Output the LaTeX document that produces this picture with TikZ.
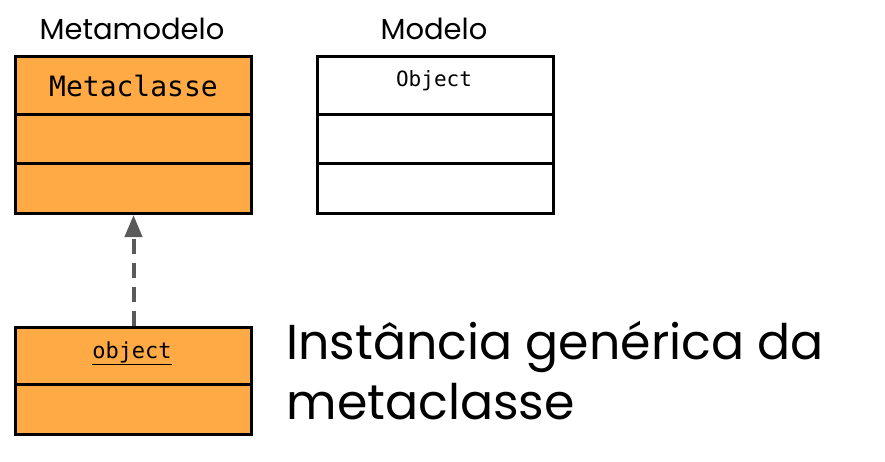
\documentclass[tikz,border=0pt]{standalone}
\usepackage{fontspec}
\setmainfont{Poppins}
\setmonofont{DejaVu Sans Mono}
\usetikzlibrary{arrows.meta}
\definecolor{boxorange}{HTML}{FFAA44}
\definecolor{arrowgray}{HTML}{5A5A5A}
\begin{document}
\begin{tikzpicture}[x=1pt,y=-1pt,
  comp/.style={draw=black, line width=3pt, minimum width=236pt, inner sep=0pt, anchor=north west},
  title/.style={font=\fontsize{29}{34}\selectfont},
]
\useasboundingbox (0,0) rectangle (885,462);
% Metaclasse
\node[comp, fill=boxorange, minimum height=58pt] (m1) at (14,55) {\ttfamily\fontsize{28}{32}\selectfont Metaclasse};
\node[comp, fill=boxorange, minimum height=49pt] (m2) at (14,113) {};
\node[comp, fill=boxorange, minimum height=50pt] (m3) at (14,162) {};
% Object
\node[comp, fill=white, minimum height=58pt] (o1) at (316,55) {};
\node[font=\ttfamily\fontsize{21}{24}\selectfont] (o1t) at (434,81) {Object};
\node[comp, fill=white, minimum height=49pt] (o2) at (316,113) {};
\node[comp, fill=white, minimum height=50pt] (o3) at (316,162) {};
% instance
\node[comp, fill=boxorange, minimum height=57pt] (i1) at (14,326) {};
\node[font=\ttfamily\fontsize{22}{24}\selectfont] (i1t) at (132,353) {\underline{object}};
\node[comp, fill=boxorange, minimum height=50pt] (i2) at (14,383) {};
% titles
\node[title] (tmeta) at (132,29) {Metamodelo};
\node[title] (tmod) at (434,29) {Modelo};
\node[font=\fontsize{49}{60}\selectfont, align=left, anchor=west] (desc) at (283,371) {Instância genérica da\\metaclasse};
% arrow
\draw[arrowgray, line width=4pt, dash pattern=on 15pt off 9pt, -{Triangle[width=17pt,length=22pt]}] (i1.north) -- (m3.south);
\end{tikzpicture}
\end{document}
